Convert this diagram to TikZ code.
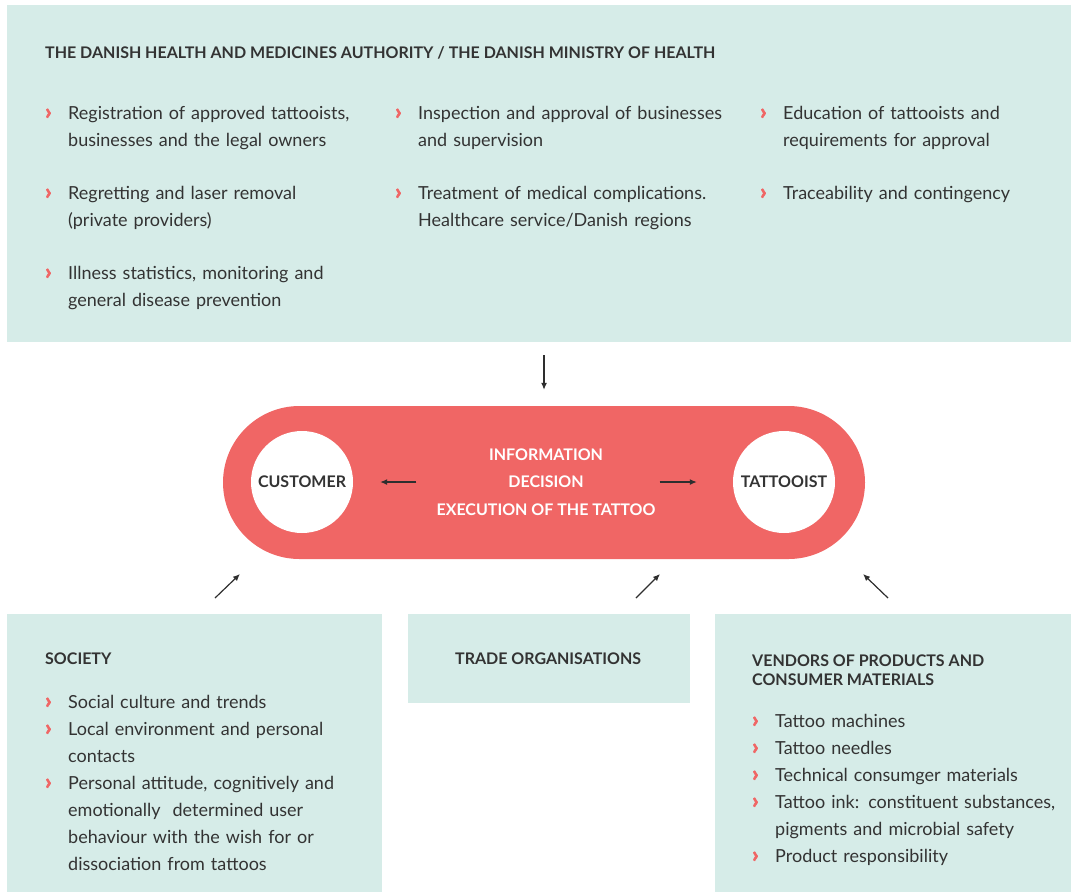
\documentclass[tikz,border=0pt]{standalone}
\usepackage{fontspec}
\setmainfont{Lato}
\newfontfamily\chevfont{Lato}[FakeBold=3]
\usetikzlibrary{positioning,arrows.meta,shapes.misc}

\definecolor{mint}{HTML}{D6ECE8}
\definecolor{coral}{HTML}{F06665}
\definecolor{ink}{HTML}{333333}

% red chevron in front of each list entry
\newcommand{\chev}{\makebox[23pt][l]{\textcolor{coral}{\chevfont\bfseries\fontsize{22}{22}\selectfont ›}}}
\newcommand{\itm}[1]{\par\hyphenpenalty=10000\hangindent=23pt\hangafter=1\noindent\chev#1\par}
\newcommand{\nl}{\hfil\break}

\tikzset{
  panel/.style={fill=mint, draw=none, anchor=north west, inner sep=0pt},
  head/.style={anchor=west, inner sep=0pt, text=ink, font=\fontsize{16}{19}\selectfont\bfseries},
  entry/.style={anchor=north west, inner sep=0pt, text=ink, align=left,
    font=\fontsize{18}{27}\selectfont, text width=#1},
  entry/.default=340pt,
  disc/.style={circle, fill=white, minimum size=102pt, inner sep=0pt,
    text=ink, font=\fontsize{16}{19}\selectfont\bfseries},
  arr/.style={-{Latex[length=7pt,width=6pt]}, line width=1.2pt, draw=ink!90!black}
}

\begin{document}
\begin{tikzpicture}[x=1pt, y=-1pt]
  \useasboundingbox (0,0) rectangle (1071,892);

  % authority box at the top
  \node[panel, minimum width=1064pt, minimum height=337pt] (auth) at (7,5) {};
  \node[head] (authhd) at (45,53) {THE DANISH HEALTH AND MEDICINES AUTHORITY / THE DANISH MINISTRY OF HEALTH};

  \node[entry] (reg) at (45,92) {\itm{Registration of approved tattooists,\nl businesses and the legal owners}};
  \node[entry] (insp) at (395,92) {\itm{Inspection and approval of businesses\nl and supervision}};
  \node[entry=300pt] (edu) at (760,92) {\itm{Education of tattooists and\nl requirements for approval}};
  \node[entry] (regret) at (45,172) {\itm{Regretting and laser removal\nl (private providers)}};
  \node[entry] (treat) at (395,172) {\itm{Treatment of medical complications.\nl Healthcare service/Danish regions}};
  \node[entry=300pt] (trace) at (760,172) {\itm{Traceability and contingency}};
  \node[entry] (ill) at (45,252) {\itm{Illness statistics, monitoring and\nl general disease prevention}};

  % the red band with customer and tattooist
  \node[rounded rectangle, fill=coral, minimum width=642pt, minimum height=153pt,
    inner sep=0pt] (core) at (544,482.5) {};
  \node[disc] (cust) at (302,482) {CUSTOMER};
  \node[disc] (tatt) at (784,482) {TATTOOIST};
  \node[align=center, text=white, inner sep=0pt,
    font=\fontsize{16}{27.5}\selectfont\bfseries] (info) at (546,482)
    {INFORMATION\\DECISION\\EXECUTION OF THE TATTOO};

  \draw[arr, shorten <=20pt, shorten >=27pt] (info.west) -- (cust.east);
  \draw[arr, shorten <=4pt, shorten >=36pt] (info.east) -- (tatt.west);
  \draw[arr, shorten <=13pt, shorten >=16pt] (auth.south -| core.north) -- (core.north);

  % boxes underneath
  \node[panel, minimum width=375pt, minimum height=278pt] (soc) at (7,614) {};
  \node[panel, minimum width=282pt, minimum height=89pt] (trade) at (408,614) {};
  \node[panel, minimum width=356pt, minimum height=278pt] (vend) at (715,614) {};

  \draw[arr] (soc.north west) ++(208,-16) -- ++(25,-24);
  \draw[arr] (trade.north west) ++(228,-16) -- ++(24,-24);
  \draw[arr] (vend.north west) ++(173,-16) -- ++(-25,-24);

  \node[head] (sochd) at (45,659) {SOCIETY};
  \node[entry=335pt] (soclist) at (45,681) {%
    \itm{Social culture and trends}
    \itm{Local environment and personal\nl contacts}
    \itm{Personal attitude, cognitively and\nl emotionally\ \ determined user\nl behaviour with the wish for or\nl dissociation from tattoos}};

  \node[head] (tradehd) at (455,659) {TRADE ORGANISATIONS};

  \node[head, anchor=north west, align=left] (vendhd) at (752,655)
    {VENDORS OF PRODUCTS AND\\CONSUMER MATERIALS};
  \node[entry=315pt] (vendlist) at (752,700) {%
    \itm{Tattoo machines}
    \itm{Tattoo needles}
    \itm{Technical consumger materials}
    \itm{Tattoo ink: constituent substances,\nl pigments and microbial safety}
    \itm{Product responsibility}};
\end{tikzpicture}
\end{document}
